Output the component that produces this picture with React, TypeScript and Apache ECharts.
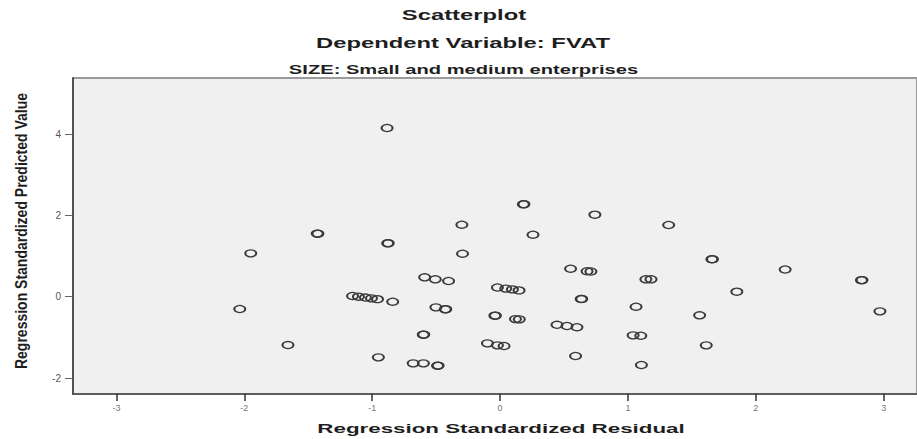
import React, { useEffect, useRef } from "react";
import * as echarts from "echarts";

// Regression Standardized Residual (x) and Regression Standardized Predicted Value (y)
const residuals: number[] = [
  -1.425, -1.43, -1.95, -0.884, 0.182, 0.186, 0.741, -0.299, 0.257, -0.879, -0.875, -0.294,
  0.551, 0.68, 0.71, 1.14, 1.18, -0.59, -0.507, -0.403,
  -0.021, 0.044, 0.096, 0.148,
  -1.154, -1.108, -1.053, -1.006, -0.959,
  -0.84, 0.634, 0.638, -0.502, -0.429, -0.425, 1.063,
  -0.041, -0.037, 0.12, 0.15,
  0.445, 0.523, 0.601, -0.601, -0.597, 1.04, 1.1,
  -0.099, -0.021, 0.031, -0.952, 0.59,
  -0.68, -0.6, -0.489, -0.485, 1.105,
  1.318, 1.656, 1.66, 2.229, 2.826, 2.83, 1.851, 1.56, 2.97, 1.612,
  -2.036, -1.659,
];
const predicted: number[] = [
  1.549, 1.552, 1.067, 4.148, 2.272, 2.275, 2.016, 1.77, 1.524, 1.313, 1.316, 1.057,
  0.688, 0.625, 0.62, 0.428, 0.428, 0.477, 0.428, 0.386,
  0.226, 0.2, 0.18, 0.155,
  0.017, 0.0, -0.02, -0.04, -0.06,
  -0.123, -0.057, -0.054, -0.261, -0.31, -0.307, -0.246,
  -0.467, -0.464, -0.55, -0.556,
  -0.69, -0.72, -0.75, -0.934, -0.931, -0.95, -0.96,
  -1.146, -1.195, -1.212, -1.49, -1.458,
  -1.638, -1.638, -1.697, -1.694, -1.679,
  1.763, 0.92, 0.923, 0.669, 0.406, 0.409, 0.123, -0.457, -0.359, -1.195,
  -0.302, -1.188,
];

const xTicks: number[] = [-3, -2, -1, 0, 1, 2, 3];
const yTicks: number[] = [-2, 0, 2, 4];

const titleLines: string[] = [
  "Scatterplot",
  "Dependent Variable: FVAT",
  "SIZE: Small and medium enterprises",
];
const xName = "Regression Standardized Residual";
const yName = "Regression Standardized Predicted Value";

const FONT = "'Liberation Sans', Arial, sans-serif";

export default function App() {
  const ref = useRef<HTMLDivElement>(null);
  useEffect(() => {
    if (!ref.current) return;
    const chart = echarts.init(ref.current, null, { renderer: "svg" });
    const data = residuals.map((x, i) => [x, predicted[i]]);
    chart.setOption({
      animation: false,
      backgroundColor: "#ffffff",
      grid: {
        left: 73,
        right: -2,
        top: 78,
        bottom: 45,
        show: true,
        backgroundColor: "#f0f0f0",
        borderColor: "#9a9a9a",
        borderWidth: 2,
      },
      xAxis: {
        type: "value",
        min: -3.34,
        max: 3.26,
        splitLine: { show: false },
        axisLine: { show: true, onZero: false, lineStyle: { color: "#4a4a4a", width: 1.5 } },
        axisTick: {
          show: true,
          customValues: xTicks,
          length: 7,
          lineStyle: { color: "#333", width: 1.5 },
        },
        axisLabel: {
          customValues: xTicks,
          fontSize: 9,
          color: "#777",
          margin: 9,
          fontFamily: FONT,
        },
      },
      yAxis: {
        type: "value",
        min: -2.392,
        max: 5.377,
        splitLine: { show: false },
        axisLine: { show: true, onZero: false, lineStyle: { color: "#3a3a3a", width: 1.5 } },
        axisTick: {
          show: true,
          customValues: yTicks,
          length: 8,
          lineStyle: { color: "#666", width: 1 },
        },
        axisLabel: {
          customValues: yTicks,
          fontSize: 10,
          color: "#555",
          margin: 12,
          fontFamily: FONT,
        },
      },
      series: [
        {
          type: "scatter",
          data,
          symbol: "circle",
          symbolSize: [11, 7],
          itemStyle: {
            color: "rgba(0,0,0,0)",
            borderColor: "#3a3a3a",
            borderWidth: 1.6,
            opacity: 1,
          },
        },
      ],
      graphic: [
        {
          type: "text",
          x: 464,
          y: 15,
          scaleX: 1.7,
          style: {
            text: titleLines[0],
            font: `bold 14px ${FONT}`,
            fill: "#1e1e1e",
            textAlign: "center",
            textVerticalAlign: "middle",
          },
        },
        {
          type: "text",
          x: 463,
          y: 43,
          scaleX: 1.7,
          style: {
            text: titleLines[1],
            font: `bold 14px ${FONT}`,
            fill: "#1e1e1e",
            textAlign: "center",
            textVerticalAlign: "middle",
          },
        },
        {
          type: "text",
          x: 463.5,
          y: 70,
          scaleX: 1.68,
          style: {
            text: titleLines[2],
            font: `bold 12px ${FONT}`,
            fill: "#1e1e1e",
            textAlign: "center",
            textVerticalAlign: "middle",
          },
        },
        {
          type: "text",
          x: 501,
          y: 428,
          scaleX: 1.72,
          style: {
            text: xName,
            font: `bold 13px ${FONT}`,
            fill: "#1e1e1e",
            textAlign: "center",
            textVerticalAlign: "middle",
          },
        },
        {
          type: "text",
          x: 21,
          y: 231,
          rotation: Math.PI / 2,
          scaleY: 1.15,
          style: {
            text: yName,
            font: `bold 14px ${FONT}`,
            fill: "#1e1e1e",
            textAlign: "center",
            textVerticalAlign: "middle",
          },
        },
      ],
    });
    return () => chart.dispose();
  }, []);
  return (
    <div
      ref={ref}
      style={{ position: "fixed", left: 0, top: 0, width: 917, height: 439 }}
    />
  );
}
